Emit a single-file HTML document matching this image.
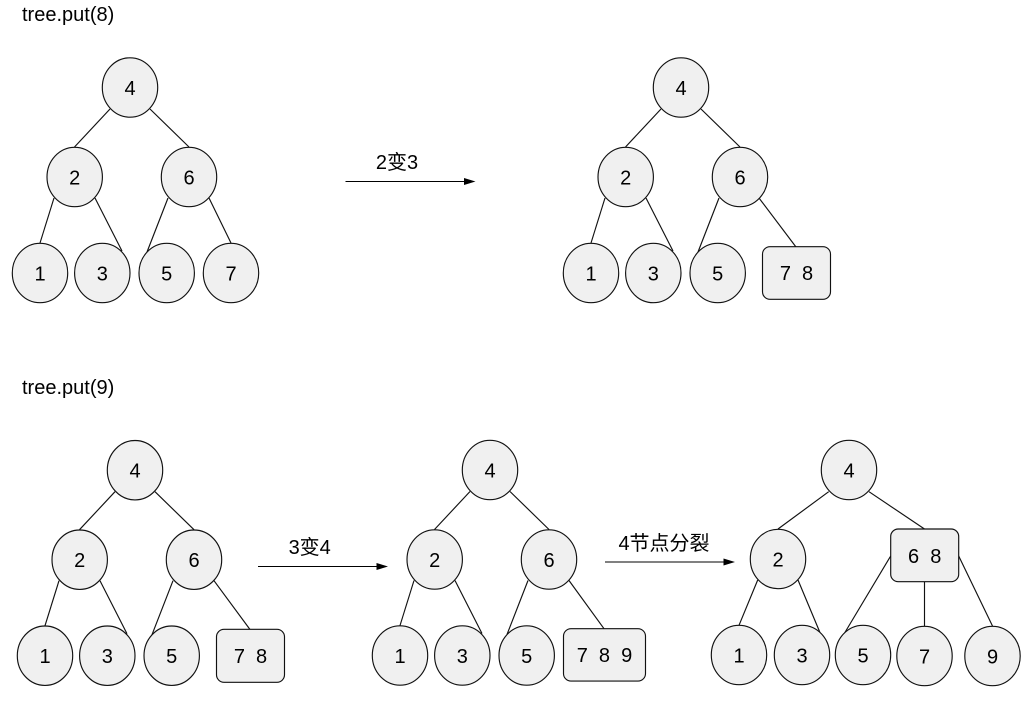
<!DOCTYPE html>
<html><head><meta charset="utf-8"><style>
html,body{margin:0;padding:0;background:#fff}
svg{display:block}
text{font-family:"Liberation Sans","Noto Sans CJK SC",sans-serif;font-size:20px;fill:#000}
.n text,text.c{text-anchor:middle}
.n ellipse,.n rect{fill:#f0f0f0;stroke:#111;stroke-width:1.15}
.n line{stroke:#111;stroke-width:1.15}
.a line{stroke:#000;stroke-width:1.1}
</style></head><body>
<svg width="1026" height="717" viewBox="0 0 1026 717" xmlns="http://www.w3.org/2000/svg">
<text x="22" y="21">tree.put(8)</text>
<text x="22" y="394">tree.put(9)</text>

<!-- Tree 1 -->
<g class="n">
<line x1="110" y1="109" x2="74.5" y2="147"/><line x1="150" y1="109" x2="189" y2="147"/>
<line x1="54" y1="198" x2="40" y2="243"/><line x1="95" y1="198" x2="122" y2="251"/>
<line x1="168" y1="198" x2="147" y2="252"/><line x1="209" y1="198" x2="231" y2="243"/>
<ellipse cx="130" cy="87.5" rx="27.7" ry="29.7"/><text x="130" y="95">4</text>
<ellipse cx="74.7" cy="177" rx="27.7" ry="29.7"/><text x="74.7" y="184.5">2</text>
<ellipse cx="189" cy="177" rx="27.7" ry="29.7"/><text x="189" y="184.5">6</text>
<ellipse cx="40" cy="273" rx="27.7" ry="29.7"/><text x="40" y="280.5">1</text>
<ellipse cx="102.3" cy="273" rx="27.7" ry="29.7"/><text x="102.3" y="280.5">3</text>
<ellipse cx="166.7" cy="273" rx="27.7" ry="29.7"/><text x="166.7" y="280.5">5</text>
<ellipse cx="231" cy="273" rx="27.7" ry="29.7"/><text x="231" y="280.5">7</text>
</g>

<!-- Tree 2 -->
<g class="n">
<line x1="661" y1="109" x2="625.5" y2="147"/><line x1="701" y1="109" x2="740" y2="147"/>
<line x1="605" y1="198" x2="591" y2="243"/><line x1="646" y1="198" x2="673" y2="251"/>
<line x1="719" y1="198" x2="698" y2="252"/><line x1="759" y1="198" x2="796" y2="247"/>
<ellipse cx="681" cy="87.5" rx="27.7" ry="29.7"/><text x="681" y="95">4</text>
<ellipse cx="625.7" cy="177" rx="27.7" ry="29.7"/><text x="625.7" y="184.5">2</text>
<ellipse cx="740" cy="177" rx="27.7" ry="29.7"/><text x="740" y="184.5">6</text>
<ellipse cx="591" cy="273" rx="27.7" ry="29.7"/><text x="591" y="280.5">1</text>
<ellipse cx="653.3" cy="273" rx="27.7" ry="29.7"/><text x="653.3" y="280.5">3</text>
<ellipse cx="717.7" cy="273" rx="27.7" ry="29.7"/><text x="717.7" y="280.5">5</text>
<rect x="762.5" y="246.7" width="68" height="52.6" rx="7.5"/><text x="796.5" y="280">7&#160;&#160;8</text>
</g>

<!-- Tree 3 -->
<g class="n">
<line x1="115" y1="491.7" x2="79.5" y2="529.7"/><line x1="155" y1="491.7" x2="194" y2="529.7"/>
<line x1="59" y1="580.7" x2="45" y2="625.7"/><line x1="100" y1="580.7" x2="127" y2="633.7"/>
<line x1="173" y1="580.7" x2="152" y2="634.7"/><line x1="214" y1="580.7" x2="250" y2="629.5"/>
<ellipse cx="135" cy="470.2" rx="27.7" ry="29.7"/><text x="135" y="477.7">4</text>
<ellipse cx="79.7" cy="559.7" rx="27.7" ry="29.7"/><text x="79.7" y="567.2">2</text>
<ellipse cx="194" cy="559.7" rx="27.7" ry="29.7"/><text x="194" y="567.2">6</text>
<ellipse cx="45" cy="655.7" rx="27.7" ry="29.7"/><text x="45" y="663.2">1</text>
<ellipse cx="107.3" cy="655.7" rx="27.7" ry="29.7"/><text x="107.3" y="663.2">3</text>
<ellipse cx="171.7" cy="655.7" rx="27.7" ry="29.7"/><text x="171.7" y="663.2">5</text>
<rect x="216.5" y="629.3" width="68" height="53" rx="7.5"/><text x="250.5" y="663">7&#160;&#160;8</text>
</g>

<!-- Tree 4 -->
<g class="n">
<line x1="470" y1="491.5" x2="434.5" y2="529.5"/><line x1="510" y1="491.5" x2="549" y2="529.5"/>
<line x1="414" y1="580.5" x2="400" y2="625.5"/><line x1="455" y1="580.5" x2="482" y2="633.5"/>
<line x1="528" y1="580.5" x2="507" y2="634.5"/><line x1="569" y1="580.5" x2="604" y2="628.7"/>
<ellipse cx="490" cy="470" rx="27.7" ry="29.7"/><text x="490" y="477.5">4</text>
<ellipse cx="434.7" cy="559.5" rx="27.7" ry="29.7"/><text x="434.7" y="567">2</text>
<ellipse cx="549" cy="559.5" rx="27.7" ry="29.7"/><text x="549" y="567">6</text>
<ellipse cx="400" cy="655.5" rx="27.7" ry="29.7"/><text x="400" y="663">1</text>
<ellipse cx="462.3" cy="655.5" rx="27.7" ry="29.7"/><text x="462.3" y="663">3</text>
<ellipse cx="526.7" cy="655.5" rx="27.7" ry="29.7"/><text x="526.7" y="663">5</text>
<rect x="563.5" y="628.7" width="82" height="52.4" rx="7.5"/><text x="604.5" y="662">7&#160;&#160;8&#160;&#160;9</text>
</g>

<!-- Tree 5 -->
<g class="n">
<line x1="828.7" y1="491.7" x2="778" y2="529"/><line x1="869" y1="491.7" x2="924.5" y2="529"/>
<line x1="757.7" y1="580" x2="739" y2="625.3"/><line x1="798" y1="580" x2="821" y2="635"/>
<line x1="890.7" y1="556" x2="844" y2="634"/><line x1="924.5" y1="581.7" x2="924.5" y2="626"/>
<line x1="958.7" y1="556" x2="992.5" y2="626"/>
<ellipse cx="849" cy="470" rx="27.7" ry="29.7"/><text x="849" y="477.5">4</text>
<ellipse cx="778" cy="559" rx="27.7" ry="29.7"/><text x="778" y="566.5">2</text>
<rect x="890.7" y="529" width="68" height="52.7" rx="7.5"/><text x="924.7" y="563">6&#160;&#160;8</text>
<ellipse cx="739" cy="655" rx="27.7" ry="29.7"/><text x="739" y="662.5">1</text>
<ellipse cx="802" cy="655" rx="27.7" ry="29.7"/><text x="802" y="662.5">3</text>
<ellipse cx="863" cy="655" rx="27.7" ry="29.7"/><text x="863" y="662.5">5</text>
<ellipse cx="924.5" cy="656" rx="27.7" ry="29.7"/><text x="924.5" y="663.5">7</text>
<ellipse cx="992.5" cy="656" rx="27.7" ry="29.7"/><text x="992.5" y="663.5">9</text>
</g>

<!-- Arrows -->
<g class="a">
<line x1="345.5" y1="181.5" x2="466" y2="181.5"/><polygon points="464,178 475.5,181.5 464,185"/>
<line x1="258" y1="566.5" x2="378" y2="566.5"/><polygon points="376.5,563 388,566.5 376.5,570"/>
<line x1="605" y1="562" x2="725" y2="562"/><polygon points="723.5,558.5 735,562 723.5,565.5"/>
</g>
<text class="c" x="397" y="169">2变3</text>
<text class="c" x="309.7" y="554">3变4</text>
<text class="c" x="664" y="550">4节点分裂</text>
</svg>
</body></html>
